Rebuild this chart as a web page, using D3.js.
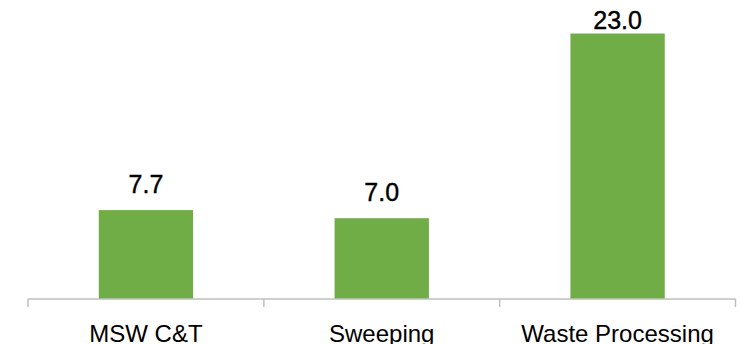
<!DOCTYPE html>
<html>
<head>
<meta charset="utf-8">
<script src="https://cdn.jsdelivr.net/npm/d3@7"></script>
<style>
  html, body { margin: 0; padding: 0; background: #fff; }
  svg { display: block; }
  text { font-family: "Liberation Sans", Arial, sans-serif; fill: #000; }
</style>
</head>
<body>
<script>
// Cost components by activity
const categories = ["MSW C&T", "Sweeping", "Waste Processing"];
const values = [7.7, 7.0, 23.0];
const valueLabels = ["7.7", "7.0", "23.0"];

const width = 744, height = 344;
const margin = { left: 28, right: 8, top: 33, bottom: 45 };
const baseY = height - margin.bottom; // 299

const svg = d3.select("body").append("svg")
  .attr("width", width).attr("height", height);

const x = d3.scaleBand()
  .domain(categories)
  .range([margin.left, width - margin.right - 0.5])
  .paddingInner(0.6)
  .paddingOuter(0.3);

const y = d3.scaleLinear()
  .domain([0, 23])
  .range([baseY, margin.top + 0.5]);

// Bars
svg.append("g").selectAll("rect")
  .data(values)
  .join("rect")
  .attr("x", (d, i) => x(categories[i]))
  .attr("width", x.bandwidth())
  .attr("y", d => y(d))
  .attr("height", d => baseY - y(d))
  .attr("fill", "#70AD47");

// Category axis with ticks at band boundaries
const axisG = svg.append("g").attr("transform", `translate(0,${baseY})`);
const [r0, r1] = x.range();
const edges = d3.range(categories.length + 1).map(i => r0 + i * (r1 - r0) / categories.length);
axisG.append("line")
  .attr("x1", edges[0]).attr("x2", edges[edges.length - 1])
  .attr("y1", 0).attr("y2", 0)
  .attr("stroke", "#BFBFBF").attr("stroke-width", 1.5);
axisG.selectAll("line.tick")
  .data(edges)
  .join("line")
  .attr("class", "tick")
  .attr("x1", d => d).attr("x2", d => d)
  .attr("y1", 0).attr("y2", 8)
  .attr("stroke", "#BFBFBF").attr("stroke-width", 1.5);

// Category labels
svg.append("g").selectAll("text")
  .data(categories)
  .join("text")
  .attr("x", d => x(d) + x.bandwidth() / 2)
  .attr("y", 341.5)
  .attr("text-anchor", "middle")
  .attr("font-size", 24)
  .text(d => d);

// Value labels above bars
svg.append("g").selectAll("text")
  .data(values)
  .join("text")
  .attr("x", (d, i) => x(categories[i]) + x.bandwidth() / 2)
  .attr("y", d => Math.max(y(d) - 17.5, 28.5))
  .attr("text-anchor", "middle")
  .attr("font-size", 25)
  .attr("stroke", "#000")
  .attr("stroke-width", 0.4)
  .text((d, i) => valueLabels[i]);
</script>
</body>
</html>
